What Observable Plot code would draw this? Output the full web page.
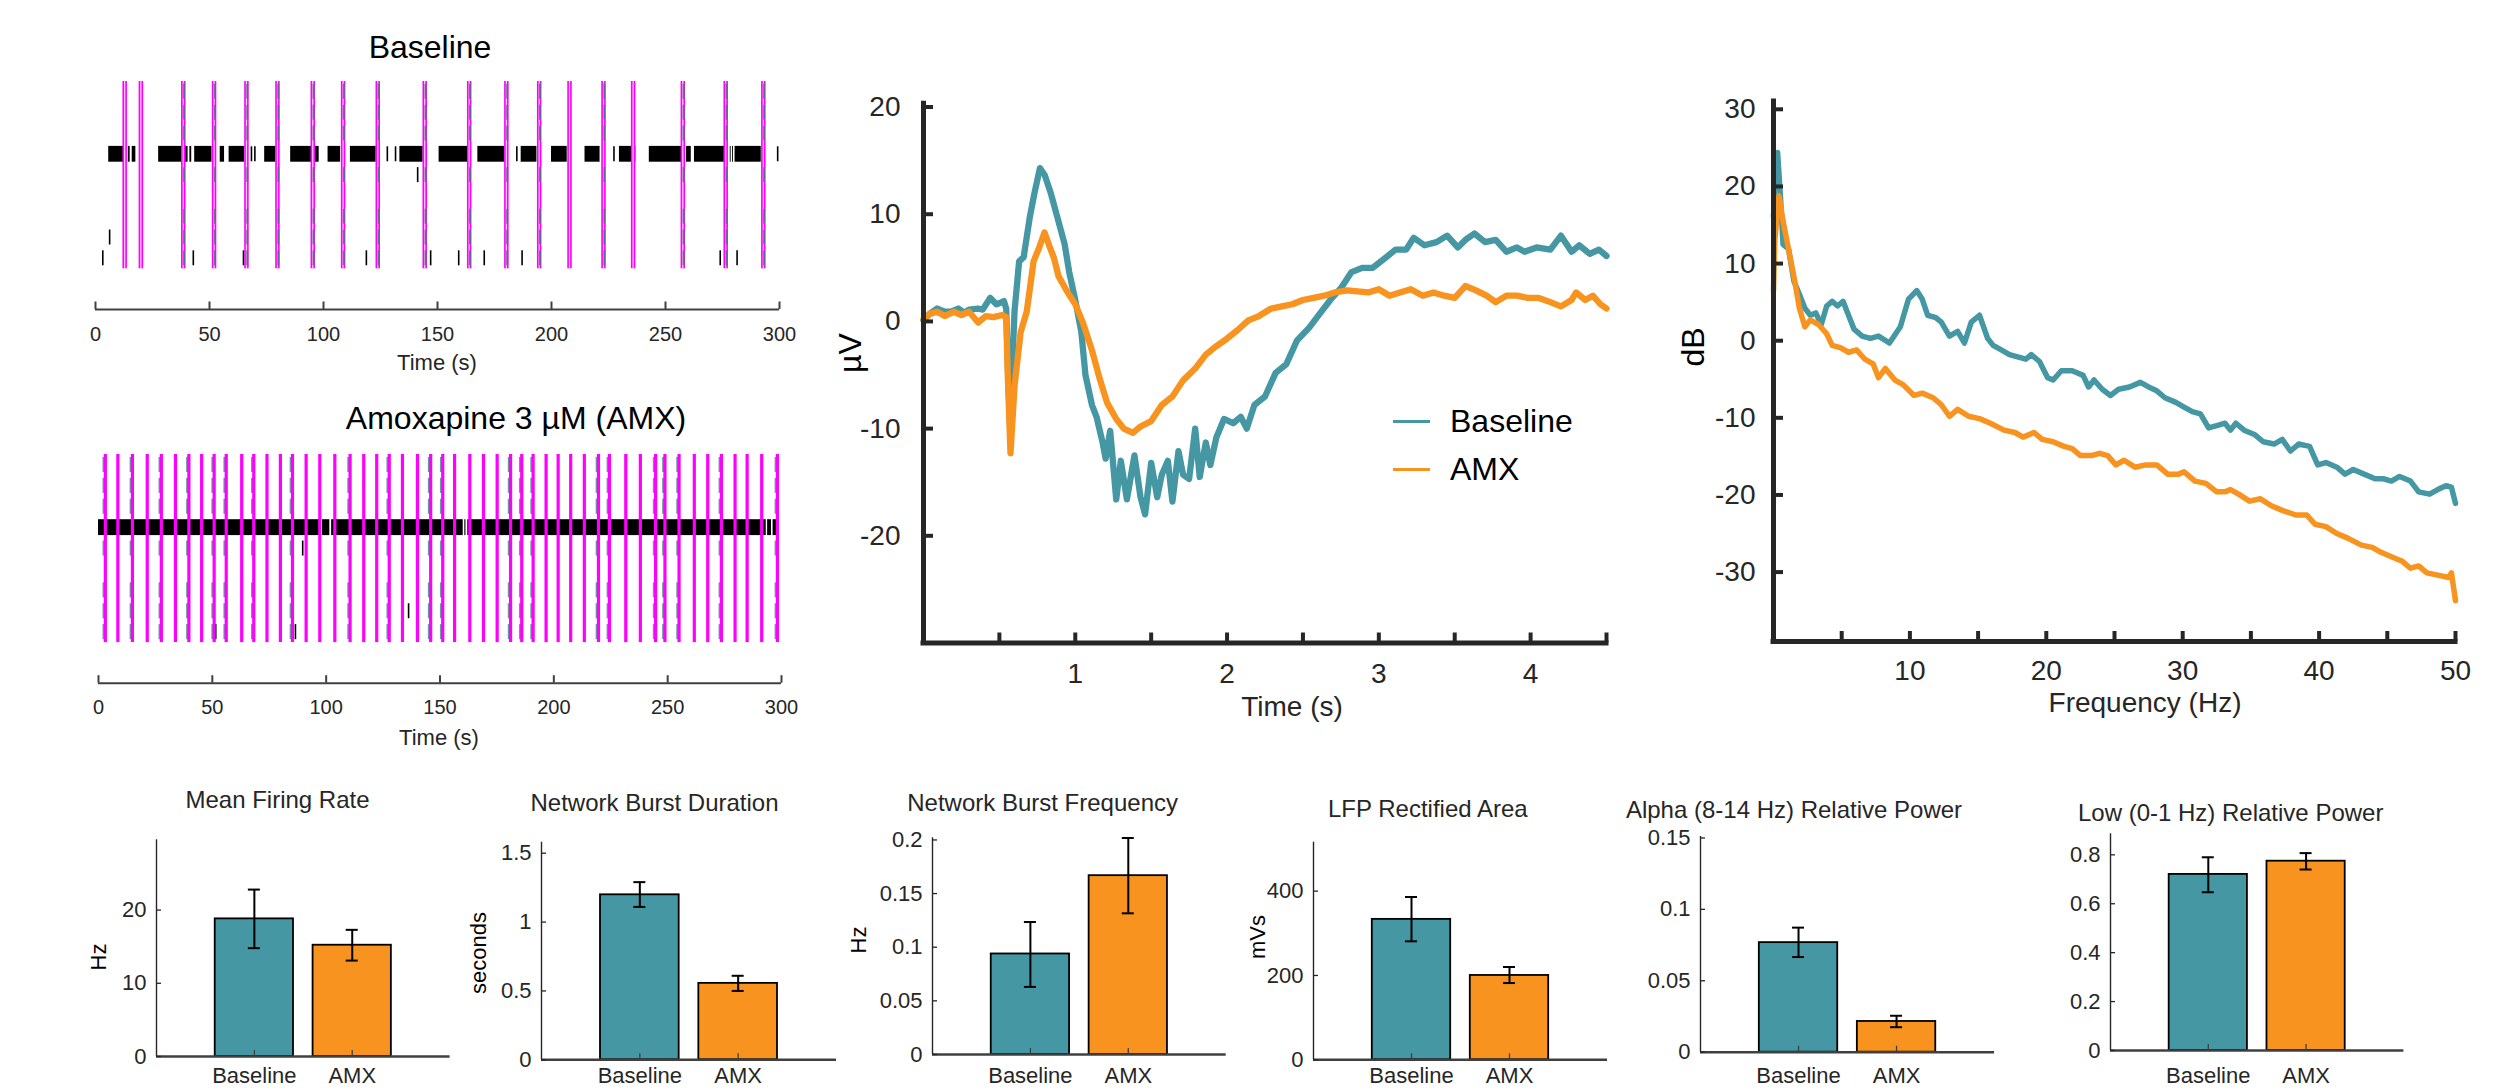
<!DOCTYPE html>
<html><head><meta charset="utf-8">
<script src="https://cdn.jsdelivr.net/npm/d3@7"></script>
<script src="https://cdn.jsdelivr.net/npm/@observablehq/plot@0.6"></script>
<style>
html,body{margin:0;padding:0;background:#fff;}
#root{position:relative;width:2515px;height:1090px;overflow:hidden;background:#fff;font-family:"Liberation Sans",Arial,sans-serif;color:#262626;}
.abs{position:absolute;}
</style></head><body><div id="root"></div>
<script>
// ---------------- DATA ----------------
const teal = "#4497a3", orange = "#f7931e", ink = "#262626", magenta = "#ff00ff";
const groups = ["Baseline", "AMX"];

// Raster
const burstRows = [1, 2, 3, 5, 7, 8, 9];
const rasterTicks = [0, 50, 100, 150, 200, 250, 300];

const baseBursts = [12.8, 19.9, 38.5, 52.0, 66.2, 79.8, 95.3, 108.6, 123.8, 144.4, 163.9, 180.2, 194.6, 207.9, 222.8, 235.8, 257.6, 276.4, 292.9];
const basePlainBursts = [12.8, 19.9, 207.9, 235.8];
const baseBlocks = [[5.8, 13.2], [14.4, 15.2], [16.1, 17.7], [27.7, 40.6], [41.4, 42.2], [43.5, 51.1], [54.7, 56.6], [58.6, 65.4], [74.2, 79.1], [85.6, 98.1], [102.0, 107.5], [111.8, 123.1], [133.5, 143.7], [150.7, 163.2], [167.7, 179.5], [186.7, 193.6], [200.0, 206.9], [214.7, 221.3], [229.8, 237.0], [242.9, 258.5], [259.2, 261.3], [262.7, 276.0], [278.4, 278.8], [279.4, 279.8], [280.5, 292.0]];
const baseSpikes = [[68.4, 4], [69.9, 4], [128.0, 4], [131.6, 4], [184.8, 4], [227.4, 4], [299.2, 4], [141.3, 5], [6.2, 8], [3.2, 9], [42.9, 9], [64.9, 9], [118.8, 9], [147.0, 9], [159.3, 9], [170.5, 9], [187.1, 9], [274.0, 9], [281.4, 9]];

const amxBursts = [3.0, 8.5, 14.9, 21.4, 27.6, 33.8, 39.7, 45.3, 50.8, 56.1, 62.9, 68.2, 74.0, 79.9, 85.2, 91.2, 97.2, 103.8, 110.5, 116.5, 122.2, 127.7, 133.5, 140.1, 145.9, 151.2, 156.4, 163.1, 169.1, 175.1, 181.0, 185.9, 190.9, 196.6, 201.9, 207.4, 213.4, 219.6, 224.4, 231.6, 238.0, 244.7, 248.8, 255.0, 261.7, 267.6, 273.6, 279.6, 284.9, 291.3, 298.2];
const amxDashedBursts = [3.0, 14.9, 27.6, 39.7, 50.8, 56.1, 68.2, 85.2, 110.5, 127.7, 145.9, 151.2, 181.0, 185.9, 190.9, 219.6, 224.4, 244.7, 248.8, 255.0, 273.6, 298.2];
const amxBlocks = [[0.0, 97.6], [98.4, 101.6], [102.4, 160.2], [160.9, 161.4], [162.2, 293.3], [293.9, 295.6], [296.3, 298.8]];
const amxSpikes = [[116.5, 2], [89.7, 5], [136.2, 8], [51.5, 9], [86.5, 9]];

// Event-related LFP (µV vs s)
const erpTicksY = [-20, -10, 0, 10, 20];
const erpTicksX = [0.5, 1, 1.5, 2, 2.5, 3, 3.5, 4, 4.5];
const erpLabelsX = [1, 2, 3, 4];
const erpBaseline = [[0,0.1],[0.04,0.7],[0.09,1.2],[0.14,0.9],[0.18,0.9],[0.23,1.2],[0.27,0.8],[0.30,1.1],[0.36,1.2],[0.39,1.1],[0.44,2.2],[0.48,1.6],[0.50,1.7],[0.53,1.9],[0.545,1.2],[0.555,-4],[0.57,-9.5],[0.585,-4],[0.60,1.0],[0.63,5.6],[0.66,6.0],[0.70,9.7],[0.73,11.9],[0.767,14.3],[0.80,13.6],[0.84,11.9],[0.89,9.3],[0.93,7.2],[0.96,4.6],[1.0,2.0],[1.04,-1.0],[1.067,-5.0],[1.11,-7.8],[1.14,-8.9],[1.18,-11.3],[1.20,-12.8],[1.23,-10.2],[1.27,-16.6],[1.30,-13.0],[1.34,-16.6],[1.39,-12.5],[1.43,-16.4],[1.46,-18.0],[1.50,-13.2],[1.54,-16.4],[1.57,-14.3],[1.61,-13.0],[1.64,-16.8],[1.68,-12.1],[1.71,-14.3],[1.75,-14.7],[1.79,-10.0],[1.82,-14.5],[1.86,-11.3],[1.89,-13.4],[1.93,-10.8],[1.98,-9.1],[2.04,-9.5],[2.09,-8.9],[2.13,-10.0],[2.18,-7.8],[2.25,-7.0],[2.32,-4.8],[2.39,-4.0],[2.46,-1.8],[2.54,-0.6],[2.61,0.7],[2.68,2.0],[2.75,3.1],[2.82,4.6],[2.89,5.0],[2.96,5.0],[3.04,5.9],[3.11,6.7],[3.18,6.7],[3.23,7.8],[3.30,7.1],[3.38,7.4],[3.45,8.0],[3.52,6.9],[3.57,7.6],[3.63,8.2],[3.70,7.4],[3.77,7.6],[3.84,6.5],[3.91,6.9],[3.96,6.5],[4.04,6.9],[4.13,6.7],[4.20,8.0],[4.27,6.5],[4.32,7.1],[4.39,6.3],[4.45,6.7],[4.5,6.1]];
const erpAMX = [[0,0.2],[0.04,0.7],[0.09,0.9],[0.14,0.5],[0.20,0.9],[0.25,0.6],[0.30,0.9],[0.36,-0.1],[0.41,0.5],[0.46,0.4],[0.52,0.6],[0.545,0.4],[0.555,-5],[0.573,-12.3],[0.60,-6],[0.64,-1],[0.68,0.9],[0.71,4.0],[0.725,5.6],[0.76,6.8],[0.797,8.3],[0.83,7.0],[0.86,5.9],[0.89,4.2],[0.95,2.7],[1.0,1.6],[1.05,-0.1],[1.11,-2.7],[1.16,-5.3],[1.21,-7.6],[1.27,-9.1],[1.32,-10.0],[1.38,-10.4],[1.43,-9.8],[1.50,-9.3],[1.57,-7.8],[1.64,-7.0],[1.71,-5.5],[1.79,-4.4],[1.86,-3.1],[1.93,-2.3],[2.0,-1.6],[2.07,-0.8],[2.14,0.1],[2.21,0.5],[2.29,1.2],[2.36,1.4],[2.43,1.6],[2.5,2.0],[2.57,2.2],[2.64,2.4],[2.71,2.7],[2.79,2.9],[2.86,2.8],[2.93,2.7],[3.0,3.0],[3.07,2.4],[3.14,2.7],[3.21,3.0],[3.29,2.4],[3.36,2.7],[3.43,2.4],[3.5,2.2],[3.57,3.3],[3.64,2.9],[3.71,2.4],[3.77,1.8],[3.84,2.4],[3.91,2.4],[3.98,2.2],[4.05,2.2],[4.13,1.8],[4.2,1.4],[4.27,2.0],[4.30,2.7],[4.36,2.0],[4.41,2.4],[4.46,1.6],[4.5,1.2]];

// Power spectrum (dB vs Hz)
const psdTicksY = [-30, -20, -10, 0, 10, 20, 30];
const psdTicksX = [5, 10, 15, 20, 25, 30, 35, 40, 45, 50];
const psdLabelsX = [10, 20, 30, 40, 50];
const psdBaseline = [[0,16.1],[0.1,20.2],[0.3,24.4],[0.5,19.0],[0.7,12.5],[1.1,11.9],[1.5,7.7],[1.9,6.0],[2.3,4.2],[2.7,3.3],[3.1,3.6],[3.5,2.1],[3.9,4.5],[4.3,5.1],[4.7,4.5],[5.1,5.1],[5.5,3.3],[5.9,1.5],[6.5,0.6],[7.1,0.3],[7.7,0.6],[8.5,-0.3],[9.3,1.8],[9.9,5.4],[10.5,6.5],[10.9,5.4],[11.3,3.3],[11.9,3.0],[12.3,2.4],[12.9,0.6],[13.5,1.2],[14.0,-0.3],[14.5,2.4],[15.1,3.3],[15.7,0.3],[16.1,-0.6],[16.7,-1.2],[17.3,-1.8],[17.9,-2.1],[18.5,-2.4],[18.9,-1.8],[19.5,-2.7],[20.1,-4.8],[20.5,-5.1],[21.1,-3.9],[21.9,-3.9],[22.7,-4.5],[23.1,-6.0],[23.5,-5.1],[24.1,-6.3],[24.7,-7.1],[25.3,-6.3],[26.1,-6.0],[26.9,-5.4],[27.5,-6.0],[28.1,-6.5],[28.7,-7.4],[29.5,-8.0],[30.1,-8.6],[30.7,-9.2],[31.3,-9.5],[31.9,-11.3],[32.5,-11.0],[33.1,-10.7],[33.5,-11.6],[33.9,-10.7],[34.5,-11.6],[35.3,-12.2],[35.9,-13.1],[36.7,-13.4],[37.3,-12.8],[37.9,-14.3],[38.5,-13.4],[39.3,-13.7],[39.9,-16.1],[40.5,-15.8],[41.3,-16.4],[41.9,-17.3],[42.5,-16.7],[43.3,-17.3],[44.1,-17.9],[44.7,-17.9],[45.3,-18.2],[45.9,-17.6],[46.7,-18.2],[47.3,-19.6],[48.1,-19.9],[48.7,-19.3],[49.3,-18.8],[49.7,-19.0],[50,-21.1]];
const psdAMX = [[0,6.5],[0.1,13.1],[0.4,18.8],[0.7,15.5],[1.1,11.9],[1.5,8.3],[1.9,4.2],[2.3,1.8],[2.7,2.7],[3.3,2.1],[3.9,0.9],[4.3,-0.6],[4.9,-0.9],[5.5,-1.5],[6.1,-1.2],[6.7,-2.4],[7.3,-3.0],[7.7,-4.8],[8.2,-3.6],[8.9,-5.1],[9.5,-5.7],[10.3,-7.1],[10.9,-6.8],[11.7,-7.4],[12.3,-8.3],[12.9,-9.8],[13.5,-8.9],[14.3,-9.8],[15.1,-10.1],[15.9,-10.7],[16.9,-11.6],[17.7,-11.9],[18.3,-12.5],[19.1,-11.9],[19.7,-12.8],[20.5,-13.1],[21.3,-13.7],[21.9,-14.0],[22.5,-14.9],[23.3,-14.9],[23.9,-14.6],[24.5,-14.9],[25.1,-16.1],[25.7,-15.5],[26.5,-16.4],[27.3,-16.1],[28.1,-16.1],[28.9,-17.3],[29.7,-17.3],[30.1,-17.0],[30.9,-18.2],[31.7,-18.5],[32.5,-19.6],[33.1,-19.6],[33.5,-19.3],[34.1,-19.9],[34.9,-20.8],[35.7,-20.5],[36.5,-21.4],[37.3,-22.0],[38.3,-22.6],[39.1,-22.6],[39.7,-23.8],[40.5,-24.1],[41.3,-25.0],[42.1,-25.6],[43.1,-26.5],[43.9,-26.8],[44.5,-27.4],[45.3,-28.0],[46.1,-28.6],[46.7,-29.5],[47.3,-29.2],[47.9,-30.1],[48.7,-30.4],[49.5,-30.7],[49.7,-30.1],[50,-33.7]];

// Bar panels (mean, lower and upper error)
const mfrMean = [18.8, 15.2], mfrLow = [14.8, 13.1], mfrHigh = [22.8, 17.3];
const nbdMean = [1.198, 0.555], nbdLow = [1.11, 0.50], nbdHigh = [1.29, 0.61];
const nbfMean = [0.0937, 0.1667], nbfLow = [0.063, 0.1316], nbfHigh = [0.1235, 0.2018];
const lfpMean = [333, 200], lfpLow = [281, 182], lfpHigh = [386, 220];
const alphaMean = [0.0767, 0.0215], alphaLow = [0.0666, 0.0175], alphaHigh = [0.0872, 0.0255];
const lowMean = [0.72, 0.774], lowLow = [0.647, 0.74], lowHigh = [0.79, 0.807];

// ---------------- HELPERS ----------------
const root = document.getElementById("root");
const baseStyle = {fontFamily: "'Liberation Sans', Arial, sans-serif", fontSize: "20px", color: ink, background: "transparent", overflow: "visible"};
function place(node, left, top) {
  const d = document.createElement("div");
  d.className = "abs"; d.style.left = left + "px"; d.style.top = top + "px";
  d.appendChild(node); root.appendChild(d);
}
function label(text, x, y, size, opts = {}) {
  const {rotate = false, color = ink, anchor = "middle"} = opts;
  const d = document.createElement("div");
  d.textContent = text;
  d.style.cssText = `position:absolute;left:${x}px;top:${y}px;font-size:${size}px;color:${color};white-space:nowrap;line-height:1;transform:translate(${anchor === "start" ? "0" : "-50%"},-50%)${rotate ? " rotate(-90deg)" : ""};`;
  root.appendChild(d);
}
function swatch(x, y, w, color) {
  const d = document.createElement("div");
  d.style.cssText = `position:absolute;left:${x}px;top:${y - 1.5}px;width:${w}px;height:3px;background:${color};`;
  root.appendChild(d);
}

// ---------------- RASTERS ----------------
function raster(c) {
  const mB = c.height - c.axisY;
  const yBottom = 0.5 + (c.axisY - c.mT) / c.rowPx;
  const half = 0.36;
  const dashData = c.dashed.flatMap(t => burstRows.map(r => ({t, r})));
  const tickLen = 7.5 / c.rowPx;
  const dashes = Plot.ruleX(dashData, {x: d => d.t, y1: d => d.r - half, y2: d => d.r + half, stroke: c.dashColor, strokeWidth: 2, strokeOpacity: 0.85, dx: c.dashDx});
  const marks = [
    Plot.rect(c.blocks, {x1: d => d[0], x2: d => d[1], y1: 4 - 0.38, y2: 4 + 0.38, fill: "#000"}),
    Plot.ruleX(c.spikes, {x: d => d[0], y1: d => d[1] - half, y2: d => d[1] + half, stroke: "#000", strokeWidth: 1.6})
  ];
  if (c.dashUnder) marks.push(dashes);
  marks.push(Plot.ruleX(c.bursts, {x: d => d, y1: 0.5, y2: 9.5, stroke: magenta, strokeWidth: c.burstW}));
  if (c.innerLight) marks.push(Plot.ruleX(c.bursts, {x: d => d, y1: 0.5, y2: 9.5, stroke: "#ffd0ff", strokeWidth: 1.2}));
  if (!c.dashUnder) marks.push(dashes);
  marks.push(
    Plot.ruleY([yBottom], {stroke: "#404040", strokeWidth: 2}),
    Plot.ruleX(rasterTicks, {x: d => d, y1: yBottom, y2: yBottom - tickLen, stroke: "#404040", strokeWidth: 2}),
    Plot.axisX(rasterTicks, {tickSize: 0, tickPadding: 17, fontSize: 20, label: null, tickFormat: d => String(d)})
  );
  return Plot.plot({
    width: c.width, height: c.height, marginLeft: c.mL, marginRight: c.mR, marginTop: c.mT, marginBottom: mB,
    x: {domain: [0, 300]}, y: {domain: [yBottom, 0.5], axis: null},
    style: baseStyle, marks
  });
}
place(raster({width: 820, height: 380, mL: 95, mR: 41, mT: 81, rowPx: 20.8, axisY: 309,
  bursts: baseBursts, dashed: baseBursts.filter(t => !basePlainBursts.includes(t)), blocks: baseBlocks, spikes: baseSpikes,
  burstW: 4.5, innerLight: true, dashColor: "#55707c", dashDx: 0.8, dashUnder: false}), 0, 0);
place(raster({width: 820, height: 380, mL: 98, mR: 39, mT: 74, rowPx: 20.9, axisY: 302.7,
  bursts: amxBursts, dashed: amxDashedBursts, blocks: amxBlocks, spikes: amxSpikes,
  burstW: 3.2, innerLight: false, dashColor: "#4f8a90", dashDx: -1.8, dashUnder: true}), 0, 380);
label("Baseline", 430, 47, 32, {color: "#000"});
label("Time (s)", 437, 363, 22);
label("Amoxapine 3 µM (AMX)", 516, 418, 32, {color: "#000"});
label("Time (s)", 439, 738, 22);

// ---------------- ERP / PSD ----------------
function linePanel(c) {
  const pxX = (c.width - c.mL - c.mR) / (c.xd[1] - c.xd[0]);
  const pxY = (c.height - c.mT - c.mB) / (c.yd[1] - c.yd[0]);
  const tl = 10;
  return Plot.plot({
    width: c.width, height: c.height, marginLeft: c.mL, marginRight: c.mR, marginTop: c.mT, marginBottom: c.mB,
    x: {domain: c.xd}, y: {domain: c.yd},
    style: baseStyle,
    marks: [
      Plot.line(c.base, {x: d => d[0], y: d => d[1], stroke: teal, strokeWidth: c.lw, strokeLinejoin: "round", strokeLinecap: "round"}),
      Plot.line(c.amx, {x: d => d[0], y: d => d[1], stroke: orange, strokeWidth: c.lw, strokeLinejoin: "round", strokeLinecap: "round"}),
      Plot.ruleX([c.xd[0]], {stroke: ink, strokeWidth: 5, strokeLinecap: "square"}),
      Plot.ruleY([c.yd[0]], {stroke: ink, strokeWidth: 5, strokeLinecap: "square"}),
      Plot.ruleY(c.yTicks, {y: d => d, x1: c.xd[0], x2: c.xd[0] + tl / pxX, stroke: ink, strokeWidth: 4}),
      Plot.ruleX(c.xTicks, {x: d => d, y1: c.yd[0], y2: c.yd[0] + tl / pxY, stroke: ink, strokeWidth: 4}),
      Plot.axisY(c.yTicks, {tickSize: 0, tickPadding: c.yPad, fontSize: 28, label: null, tickFormat: d => String(d)}),
      Plot.axisX(c.xLabels, {tickSize: 0, tickPadding: c.xPad, fontSize: 28, label: null, tickFormat: d => String(d)})
    ]
  });
}
place(linePanel({width: 850, height: 720, mL: 103, mR: 64, mT: 103.3, mB: 77.5, xd: [0, 4.5], yd: [-30, 20.3],
  base: erpBaseline, amx: erpAMX, lw: 6.3, yTicks: erpTicksY, xTicks: erpTicksX, xLabels: erpLabelsX, yPad: 23, xPad: 20}), 820, 0);
label("µV", 850, 353, 32, {rotate: true, color: "#000"});
label("Time (s)", 1292, 707, 28);
swatch(1393, 421, 37, teal);
swatch(1393, 469, 37, orange);
label("Baseline", 1450, 421, 32, {anchor: "start", color: "#000"});
label("AMX", 1450, 469, 32, {anchor: "start", color: "#000"});

place(linePanel({width: 855, height: 720, mL: 113, mR: 60, mT: 101.1, mB: 79, xd: [0, 50], yd: [-39, 31],
  base: psdBaseline, amx: psdAMX, lw: 5.5, yTicks: psdTicksY, xTicks: psdTicksX, xLabels: psdLabelsX, yPad: 18, xPad: 19}), 1660, 0);
label("dB", 1693, 347, 32, {rotate: true, color: "#000"});
label("Frequency (Hz)", 2145, 703, 28);

// ---------------- BAR PANELS ----------------
function barPanel(p) {
  const mL = 90, mR = 20, top = 820, height = 270;
  const plotW = p.right - p.axis;
  const width = mL + plotW + mR;
  const mT = p.top - top, mB = top + height - p.base;
  const pxX = plotW / 3, pxY = (p.base - p.top) / p.ymax;
  const rows = groups.map((g, i) => ({g, pos: i + 1, mean: p.mean[i], lo: p.lo[i], hi: p.hi[i], color: [teal, orange][i]}));
  const cap = 6 / pxX;
  const svg = Plot.plot({
    width, height, marginLeft: mL, marginRight: mR, marginTop: mT, marginBottom: mB,
    x: {domain: [0, 3]}, y: {domain: [0, p.ymax]}, color: {type: "identity"},
    style: baseStyle,
    marks: [
      Plot.rect(rows, {x1: d => d.pos - 0.4, x2: d => d.pos + 0.4, y1: 0, y2: "mean", fill: "color", stroke: "#000", strokeWidth: 1.8}),
      Plot.ruleY([0], {stroke: "#404040", strokeWidth: 2.5}),
      Plot.ruleX([0], {stroke: ink, strokeWidth: 1.4}),
      Plot.ruleY(p.ticks, {y: d => d, x1: 0, x2: 5 / pxX, stroke: ink, strokeWidth: 1.3}),
      Plot.ruleX(rows, {x: "pos", y1: 0, y2: 6 / pxY, stroke: "#404040", strokeWidth: 1.3}),
      Plot.ruleX(rows, {x: "pos", y1: "lo", y2: "hi", stroke: "#000", strokeWidth: 2}),
      Plot.ruleY(rows, {y: "hi", x1: d => d.pos - cap, x2: d => d.pos + cap, stroke: "#000", strokeWidth: 2}),
      Plot.ruleY(rows, {y: "lo", x1: d => d.pos - cap, x2: d => d.pos + cap, stroke: "#000", strokeWidth: 2}),
      Plot.axisY(p.ticks, {tickSize: 0, tickPadding: 10, fontSize: 22, label: null, tickFormat: d => String(d)}),
      Plot.axisX(rows.map(r => r.pos), {tickSize: 0, tickPadding: 1067 - p.base, fontSize: 22, label: null, tickFormat: d => groups[d - 1]})
    ]
  });
  place(svg, p.axis - mL, top);
  label(p.title, p.tx, p.ty, 24);
  if (p.ylabel) label(p.ylabel, p.lx, p.ly, 22, {rotate: true, color: "#000"});
}
barPanel({axis: 156.4, right: 450, base: 1056, top: 839.3, ymax: 29.6, ticks: [0, 10, 20], mean: mfrMean, lo: mfrLow, hi: mfrHigh,
  title: "Mean Firing Rate", tx: 277.5, ty: 800, ylabel: "Hz", lx: 99, ly: 957});
barPanel({axis: 541, right: 836, base: 1059.3, top: 841.7, ymax: 1.58, ticks: [0, 0.5, 1, 1.5], mean: nbdMean, lo: nbdLow, hi: nbdHigh,
  title: "Network Burst Duration", tx: 654.5, ty: 803, ylabel: "seconds", lx: 479.4, ly: 953});
barPanel({axis: 932, right: 1225.7, base: 1054, top: 837.3, ymax: 0.202, ticks: [0, 0.05, 0.1, 0.15, 0.2], mean: nbfMean, lo: nbfLow, hi: nbfHigh,
  title: "Network Burst Frequency", tx: 1042.6, ty: 803, ylabel: "Hz", lx: 858.7, ly: 940});
barPanel({axis: 1313, right: 1607, base: 1059.3, top: 841.7, ymax: 516, ticks: [0, 200, 400], mean: lfpMean, lo: lfpLow, hi: lfpHigh,
  title: "LFP Rectified Area", tx: 1427.8, ty: 809, ylabel: "mVs", lx: 1257.8, ly: 936.7});
barPanel({axis: 1700.3, right: 1994.4, base: 1051.7, top: 836, ymax: 0.151, ticks: [0, 0.05, 0.1, 0.15], mean: alphaMean, lo: alphaLow, hi: alphaHigh,
  title: "Alpha (8-14 Hz) Relative Power", tx: 1794, ty: 810});
barPanel({axis: 2110, right: 2403.4, base: 1050, top: 833.3, ymax: 0.886, ticks: [0, 0.2, 0.4, 0.6, 0.8], mean: lowMean, lo: lowLow, hi: lowHigh,
  title: "Low (0-1 Hz) Relative Power", tx: 2230.7, ty: 813});
</script></body></html>
